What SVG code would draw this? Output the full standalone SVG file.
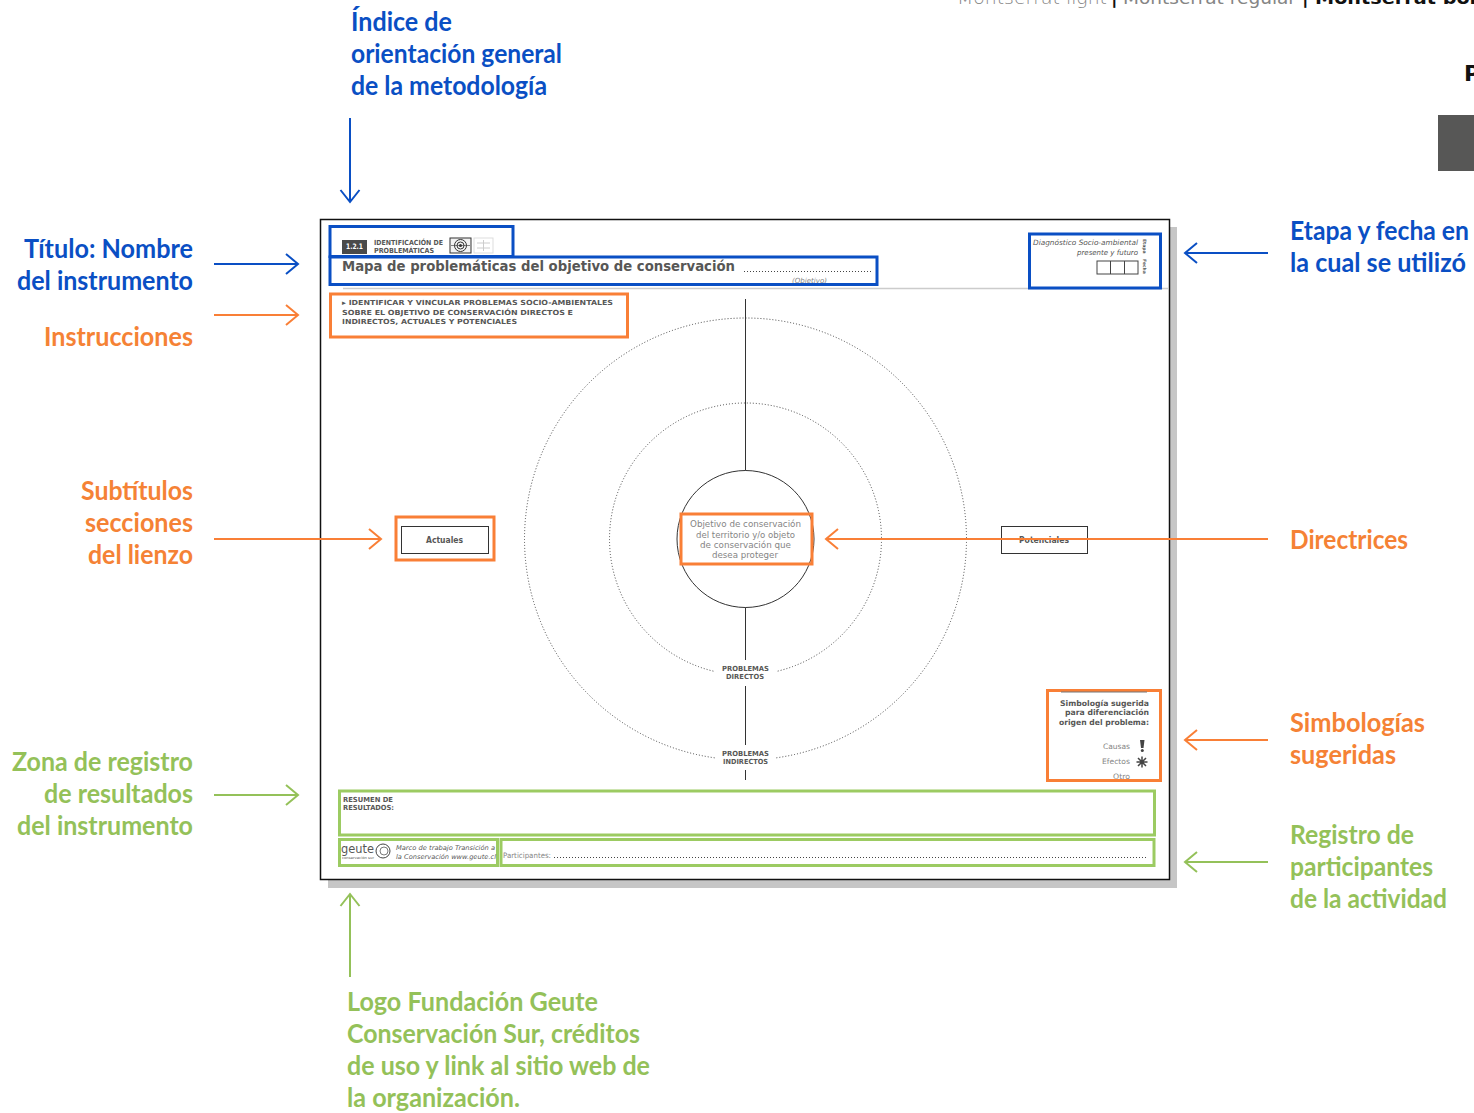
<svg xmlns="http://www.w3.org/2000/svg" width="1474" height="1113" viewBox="0 0 1474 1113">
<style>
text{font-family:"DejaVu Sans","Liberation Sans",sans-serif;fill:#575756}
.l{font-family:"Lato","Open Sans",sans-serif;font-weight:700;font-size:26px}
.b{fill:#0a4fc4}.o{fill:#f58235}.g{fill:#94c159}
.e{text-anchor:end}.m{text-anchor:middle}
.gr{fill:#858585}.wh{fill:#fff}.bk{fill:#111}
.sb{fill:none;stroke:#0a4fc4;stroke-width:3}
.so{fill:none;stroke:#f97f36;stroke-width:3}
.sg{fill:none;stroke:#9ccb62;stroke-width:3}
.ab{fill:none;stroke:#0a4fc4;stroke-width:2}
.ao{fill:none;stroke:#f97f36;stroke-width:2}
.ag{fill:none;stroke:#94c159;stroke-width:2}
.t{font-weight:700;font-size:7px}
.dot{fill:none;stroke:#444;stroke-width:1;stroke-dasharray:1 2}
.bl{fill:none;stroke:#333;stroke-width:1}
</style>
<rect width="1474" height="1113" fill="#fff"/>
<g id="font-sample">
<text x="957" y="4" font-size="18" font-weight="300" class="gr" textLength="150" lengthAdjust="spacingAndGlyphs">Montserrat light</text>
<text x="1111" y="4" font-size="18" font-weight="700" class="bk">|</text>
<text x="1123" y="4" font-size="18" class="gr" textLength="173" lengthAdjust="spacingAndGlyphs">Montserrat regular</text>
<text x="1302" y="4" font-size="18" font-weight="700" class="bk">|</text>
<text x="1315" y="4" font-size="18" font-weight="700" class="bk" textLength="175" lengthAdjust="spacingAndGlyphs">Montserrat  bold</text>
<text x="1464" y="81" font-size="22" font-weight="700" class="bk">P</text>
<rect x="1438" y="115" width="36" height="56" fill="#575756"/>
</g>
<g id="canvas">
<rect x="328" y="227" width="849" height="661" fill="#c6c6c6"/>
<rect x="320.500" y="219.500" width="849" height="660" fill="#fff" stroke="#111" stroke-width="1.500"/>
<line x1="343" y1="288.500" x2="1168" y2="288.500" stroke="#ccc" stroke-width="1.500"/>
</g>
<g id="header">
<rect x="342" y="240" width="25" height="14" fill="#4a4a4a"/>
<text x="354.500" y="249" font-size="7.500" font-weight="700" class="m wh" textLength="17" lengthAdjust="spacingAndGlyphs">1.2.1</text>
<text x="374" y="245" class="t" font-size="6" textLength="69" lengthAdjust="spacingAndGlyphs">IDENTIFICACIÓN DE</text>
<text x="374" y="253" class="t" font-size="6" textLength="60" lengthAdjust="spacingAndGlyphs">PROBLEMÁTICAS</text>
<rect x="450" y="238" width="21" height="15" fill="#f2f2f2" stroke="#333"/>
<circle cx="460.500" cy="245.500" r="6" fill="none" stroke="#333"/>
<circle cx="460.500" cy="245.500" r="3.500" fill="none" stroke="#333"/>
<circle cx="460.500" cy="245.500" r="1.500" fill="#333"/>
<line x1="451" y1="245.500" x2="470" y2="245.500" stroke="#333" stroke-width=".6"/>
<rect x="474" y="238" width="19" height="15" fill="#fff" stroke="#ddd"/>
<path d="M483.500 240V251M477 243H490M477 248H490" stroke="#ccc" fill="none"/>
<text x="342" y="271" font-size="13.400" font-weight="700" textLength="393" lengthAdjust="spacingAndGlyphs">Mapa de problemáticas del objetivo de conservación</text>
<line x1="744" y1="271.500" x2="872" y2="271.500" class="dot"/>
<text x="792" y="283" font-size="7" font-style="italic" class="gr" textLength="35" lengthAdjust="spacingAndGlyphs">(Objetivo)</text>
<rect x="330" y="226.500" width="183" height="30" class="sb"/>
<rect x="330" y="257" width="547" height="27.500" class="sb"/>
</g>
<g id="stage">
<text x="1138" y="245" font-size="7.300" font-style="italic" class="e" textLength="105" lengthAdjust="spacingAndGlyphs">Diagnóstico Socio-ambiental</text>
<text x="1138" y="254.500" font-size="7.300" font-style="italic" class="e" textLength="61" lengthAdjust="spacingAndGlyphs">presente y futuro</text>
<rect x="1097" y="261" width="41" height="13" fill="#fff" stroke="#444"/>
<path d="M1110.500 261V274M1124.500 261V274" stroke="#444"/>
<text transform="translate(1143 239) rotate(90)" font-size="4.500" font-weight="700">Etapa</text>
<text transform="translate(1143 259) rotate(90)" font-size="4.500" font-weight="700">Fecha</text>
<rect x="1029.500" y="234" width="131" height="54" class="sb"/>
</g>
<g id="instructions">
<text x="342" y="305" class="t" font-size="7.500" textLength="271" lengthAdjust="spacingAndGlyphs">▸ IDENTIFICAR Y VINCULAR PROBLEMAS SOCIO-AMBIENTALES</text>
<text x="342" y="314.500" class="t" textLength="231" lengthAdjust="spacingAndGlyphs">SOBRE EL OBJETIVO DE CONSERVACIÓN DIRECTOS E</text>
<text x="342" y="324" class="t" textLength="175" lengthAdjust="spacingAndGlyphs">INDIRECTOS, ACTUALES Y POTENCIALES</text>
<rect x="330.500" y="294" width="297" height="43" class="so"/>
</g>
<g id="rings">
<circle cx="745.500" cy="539" r="221" class="dot"/>
<circle cx="745.500" cy="539" r="136" class="dot"/>
<line x1="745.500" y1="299" x2="745.500" y2="471" class="bl"/>
<line x1="745.500" y1="607" x2="745.500" y2="660" class="bl"/>
<line x1="745.500" y1="686" x2="745.500" y2="745" class="bl"/>
<line x1="745.500" y1="770" x2="745.500" y2="780" class="bl"/>
<rect x="715" y="662" width="61" height="20" fill="#fff"/>
<text x="722" y="671" font-size="7" font-weight="700" textLength="47" lengthAdjust="spacingAndGlyphs">PROBLEMAS</text>
<text x="726" y="679" font-size="7" font-weight="700" textLength="38" lengthAdjust="spacingAndGlyphs">DIRECTOS</text>
<rect x="715" y="747" width="61" height="20" fill="#fff"/>
<text x="722" y="756" font-size="7" font-weight="700" textLength="47" lengthAdjust="spacingAndGlyphs">PROBLEMAS</text>
<text x="723" y="764" font-size="7" font-weight="700" textLength="45" lengthAdjust="spacingAndGlyphs">INDIRECTOS</text>
</g>
<g id="center">
<circle cx="745.500" cy="539" r="68.500" fill="#fff" stroke="#333"/>
<rect x="681" y="514" width="131" height="50" fill="#fff" class="so"/>
<text x="690" y="527" font-size="9.300" class="gr" textLength="111" lengthAdjust="spacingAndGlyphs">Objetivo de conservación</text>
<text x="696" y="538" font-size="9.300" class="gr" textLength="99" lengthAdjust="spacingAndGlyphs">del territorio y/o objeto</text>
<text x="700" y="548" font-size="9.300" class="gr" textLength="91" lengthAdjust="spacingAndGlyphs">de conservación que</text>
<text x="712" y="558" font-size="9.300" class="gr" textLength="66" lengthAdjust="spacingAndGlyphs">desea proteger</text>
</g>
<g id="actuales">
<rect x="401.500" y="526.500" width="87" height="27" fill="#fff" stroke="#333"/>
<text x="426" y="543" font-size="8" font-weight="700" textLength="37" lengthAdjust="spacingAndGlyphs">Actuales</text>
<rect x="396" y="517" width="98" height="43" class="so"/>
</g>
<g id="potenciales">
<rect x="1001.500" y="526.500" width="86" height="27" fill="#fff" stroke="#333"/>
<text x="1019" y="543" font-size="8" font-weight="700" textLength="50" lengthAdjust="spacingAndGlyphs">Potenciales</text>
</g>
<g id="symbols">
<rect x="1047.500" y="690.500" width="113" height="90" fill="#fff" class="so"/>
<line x1="1061" y1="692" x2="1147" y2="692" stroke="#777" stroke-width="1"/>
<text x="1149" y="706" font-size="7.800" font-weight="700" class="e" textLength="89" lengthAdjust="spacingAndGlyphs">Simbología sugerida</text>
<text x="1149" y="715" font-size="7.800" font-weight="700" class="e" textLength="84" lengthAdjust="spacingAndGlyphs">para diferenciación</text>
<text x="1149" y="725" font-size="7.800" font-weight="700" class="e" textLength="90" lengthAdjust="spacingAndGlyphs">origen del problema:</text>
<text x="1130" y="749" font-size="7.500" class="e gr" textLength="27" lengthAdjust="spacingAndGlyphs">Causas</text>
<text x="1130" y="764" font-size="7.500" class="e gr" textLength="28" lengthAdjust="spacingAndGlyphs">Efectos</text>
<text x="1130" y="779" font-size="7.500" class="e gr" textLength="17" lengthAdjust="spacingAndGlyphs">Otro</text>
<path d="M1140 740H1144.500L1143.500 748H1141Z" fill="#444"/><circle cx="1142.300" cy="750.500" r="1.500" fill="#444"/>
<path d="M1142 756.500V767.500M1136.500 762H1147.500M1138 758L1146 766M1146 758L1138 766" stroke="#444" stroke-width="1.500"/>
</g>
<g id="summary">
<rect x="339.500" y="791" width="815" height="44" class="sg"/>
<text x="343" y="801.500" font-size="7" font-weight="700" textLength="50" lengthAdjust="spacingAndGlyphs">RESUMEN DE</text>
<text x="343" y="810" font-size="7" font-weight="700" textLength="51" lengthAdjust="spacingAndGlyphs">RESULTADOS:</text>
</g>
<g id="logo">
<rect x="339.500" y="839.500" width="158" height="26" class="sg"/>
<text x="341" y="852.500" font-size="12.500" textLength="33" lengthAdjust="spacingAndGlyphs">geute</text>
<text x="342" y="858.500" font-size="3.500" textLength="32" lengthAdjust="spacingAndGlyphs">conservación sur</text>
<circle cx="383" cy="851" r="7" fill="none" stroke="#444"/><circle cx="384" cy="851" r="4" fill="none" stroke="#444" stroke-width=".7"/>
<text x="396" y="850" font-size="6.500" font-style="italic" textLength="99" lengthAdjust="spacingAndGlyphs">Marco de trabajo Transición a</text>
<text x="396" y="858.500" font-size="6.500" font-style="italic" textLength="100" lengthAdjust="spacingAndGlyphs">la Conservación www.geute.cl</text>
</g>
<g id="participants">
<rect x="501" y="839.500" width="653" height="26" class="sg"/>
<text x="503" y="858" font-size="7.500" class="gr" textLength="48" lengthAdjust="spacingAndGlyphs">Participantes:</text>
<line x1="554" y1="857.500" x2="1148" y2="857.500" class="dot"/>
</g>
<g id="connectors">
<path class="ab" d="M350 118V202M340.500 190L350 202L359.500 190"/>
<path class="ab" d="M214 264H298M286 254L298 264L286 274"/>
<path class="ao" d="M214 315H298M286 305L298 315L286 325"/>
<path class="ao" d="M214 539H381M369 529L381 539L369 549"/>
<path class="ag" d="M214 795H298M286 785L298 795L286 805"/>
<path class="ab" d="M1268 253H1185M1197 243L1185 253L1197 263"/>
<path class="ao" d="M1268 539H826M838 529L826 539L838 549"/>
<path class="ao" d="M1268 740H1185M1197 730L1185 740L1197 750"/>
<path class="ag" d="M1268 862H1185M1197 852L1185 862L1197 872"/>
<path class="ag" d="M350 977V894M340.500 906L350 894L359.500 906"/>
</g>
<g id="labels">
<text class="l b" x="351" y="31" textLength="101" lengthAdjust="spacingAndGlyphs">Índice de</text>
<text class="l b" x="351" y="63" textLength="211" lengthAdjust="spacingAndGlyphs">orientación general</text>
<text class="l b" x="351" y="95" textLength="196" lengthAdjust="spacingAndGlyphs">de la metodología</text>
<text class="l b" x="24" y="258" textLength="169" lengthAdjust="spacingAndGlyphs">Título: Nombre</text>
<text class="l b" x="17" y="290" textLength="176" lengthAdjust="spacingAndGlyphs">del instrumento</text>
<text class="l o" x="44" y="346" textLength="149" lengthAdjust="spacingAndGlyphs">Instrucciones</text>
<text class="l o" x="81" y="500" textLength="112" lengthAdjust="spacingAndGlyphs">Subtítulos</text>
<text class="l o" x="85" y="532" textLength="108" lengthAdjust="spacingAndGlyphs">secciones</text>
<text class="l o" x="88" y="564" textLength="105" lengthAdjust="spacingAndGlyphs">del lienzo</text>
<text class="l g" x="12" y="771" textLength="181" lengthAdjust="spacingAndGlyphs">Zona de registro</text>
<text class="l g" x="44" y="803" textLength="149" lengthAdjust="spacingAndGlyphs">de resultados</text>
<text class="l g" x="17" y="835" textLength="176" lengthAdjust="spacingAndGlyphs">del instrumento</text>
<text class="l b" x="1290" y="240" textLength="179" lengthAdjust="spacingAndGlyphs">Etapa y fecha en</text>
<text class="l b" x="1290" y="272" textLength="176" lengthAdjust="spacingAndGlyphs">la cual se utilizó</text>
<text class="l o" x="1290" y="549" textLength="118" lengthAdjust="spacingAndGlyphs">Directrices</text>
<text class="l o" x="1290" y="732" textLength="135" lengthAdjust="spacingAndGlyphs">Simbologías</text>
<text class="l o" x="1290" y="764" textLength="106" lengthAdjust="spacingAndGlyphs">sugeridas</text>
<text class="l g" x="1290" y="844" textLength="124" lengthAdjust="spacingAndGlyphs">Registro de</text>
<text class="l g" x="1290" y="876" textLength="143" lengthAdjust="spacingAndGlyphs">participantes</text>
<text class="l g" x="1290" y="908" textLength="157" lengthAdjust="spacingAndGlyphs">de la actividad</text>
<text class="l g" x="347" y="1011" textLength="251" lengthAdjust="spacingAndGlyphs">Logo Fundación Geute</text>
<text class="l g" x="347" y="1043" textLength="293" lengthAdjust="spacingAndGlyphs">Conservación Sur, créditos</text>
<text class="l g" x="347" y="1075" textLength="303" lengthAdjust="spacingAndGlyphs">de uso y link al sitio web de</text>
<text class="l g" x="347" y="1107" textLength="173" lengthAdjust="spacingAndGlyphs">la organización.</text>
</g>
</svg>
